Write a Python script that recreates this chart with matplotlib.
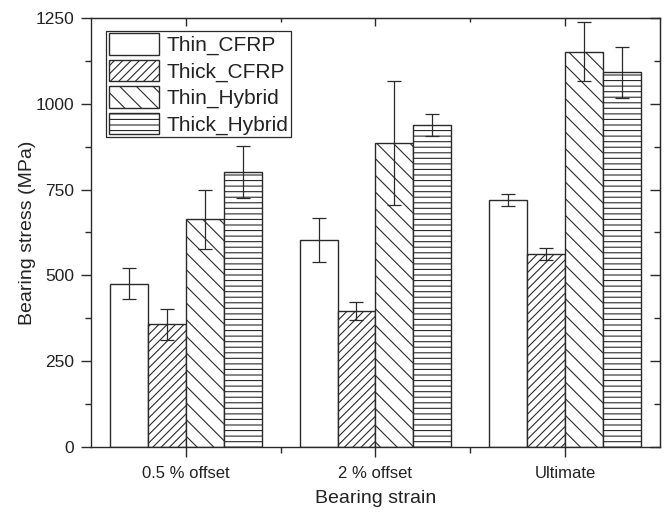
import numpy as np
import matplotlib
matplotlib.use("Agg")
import matplotlib.pyplot as plt
from matplotlib.ticker import MultipleLocator, FixedLocator

plt.rcParams['font.family'] = ['Liberation Sans', 'DejaVu Sans']
plt.rcParams['hatch.linewidth'] = 0.8

# bearing stress (MPa) with standard deviations, per specimen type
categories = ['0.5 % offset', '2 % offset', 'Ultimate']
series = ['Thin_CFRP', 'Thick_CFRP', 'Thin_Hybrid', 'Thick_Hybrid']
thin_cfrp = [476, 604, 720]
thin_cfrp_err = [45, 64, 17]
thick_cfrp = [357, 396, 562]
thick_cfrp_err = [45, 26, 17]
thin_hybrid = [663, 886, 1152]
thin_hybrid_err = [85, 180, 85]
thick_hybrid = [802, 938, 1091]
thick_hybrid_err = [76, 31, 75]

values = [thin_cfrp, thick_cfrp, thin_hybrid, thick_hybrid]
errors = [thin_cfrp_err, thick_cfrp_err, thin_hybrid_err, thick_hybrid_err]
hatches = ['', '////', '\\\\', '---']

ink = '#2a2a2a'
fig = plt.figure(figsize=(6.67, 5.12), dpi=100)
ax = fig.add_axes([0.1364, 0.127, 0.853, 0.838])

x = np.arange(len(categories))
w = 0.2
for i, (vals, errs, h, name) in enumerate(zip(values, errors, hatches, series)):
    pos = x + (i - 1.5) * w
    ax.bar(pos, vals, w, color='white', edgecolor=ink, linewidth=1.0,
           hatch=h, label=name, zorder=2)
    ax.errorbar(pos, vals, yerr=errs, fmt='none', ecolor=ink, elinewidth=0.9,
                capsize=5, capthick=0.9, zorder=3)

ax.set_xlim(-0.5, 2.5)
ax.set_ylim(0, 1250)
ax.set_xticks(x)
ax.set_xticklabels(categories)
ax.xaxis.set_minor_locator(FixedLocator([0.5, 1.5]))
ax.yaxis.set_major_locator(MultipleLocator(250))
ax.yaxis.set_minor_locator(MultipleLocator(125))

for sp in ax.spines.values():
    sp.set_color(ink)
    sp.set_linewidth(1.0)

ax.tick_params(which='major', direction='out', length=7, width=1.0,
               colors=ink, labelcolor='#222222')
ax.tick_params(axis='x', which='major', labelsize=12, pad=7)
ax.tick_params(axis='y', which='major', labelsize=12.5, pad=5)
ax.tick_params(which='minor', direction='out', length=4, width=1.0, colors=ink)

# inward ticks on the top and right frame
top = ax.secondary_xaxis('top')
top.set_xticks(x)
top.xaxis.set_minor_locator(FixedLocator([0.5, 1.5]))
top.tick_params(which='major', direction='in', length=6, width=1.0,
                colors=ink, labeltop=False)
top.tick_params(which='minor', direction='in', length=3, width=1.0, colors=ink)
right = ax.secondary_yaxis('right')
right.yaxis.set_major_locator(MultipleLocator(250))
right.yaxis.set_minor_locator(MultipleLocator(125))
right.tick_params(which='major', direction='in', length=7, width=1.0,
                  colors=ink, labelright=False)
right.tick_params(which='minor', direction='in', length=4, width=1.0, colors=ink)
for sec in (top, right):
    for sp in sec.spines.values():
        sp.set_color(ink)

ax.set_xlabel('Bearing strain', fontsize=14, color='#222222', labelpad=6)
ax.set_ylabel('Bearing stress (MPa)', fontsize=14, color='#222222', labelpad=0)

leg = ax.legend(loc='upper left', bbox_to_anchor=(0.027, 0.97), fontsize=15,
                frameon=True, fancybox=False, edgecolor=ink, framealpha=1,
                handlelength=2.4, handleheight=1.2, handletextpad=0.35,
                labelspacing=0.22, borderpad=0.12, borderaxespad=0)
leg.get_frame().set_linewidth(0.9)
for t in leg.get_texts():
    t.set_color('#222222')

fig.savefig('out.png', dpi=100)
